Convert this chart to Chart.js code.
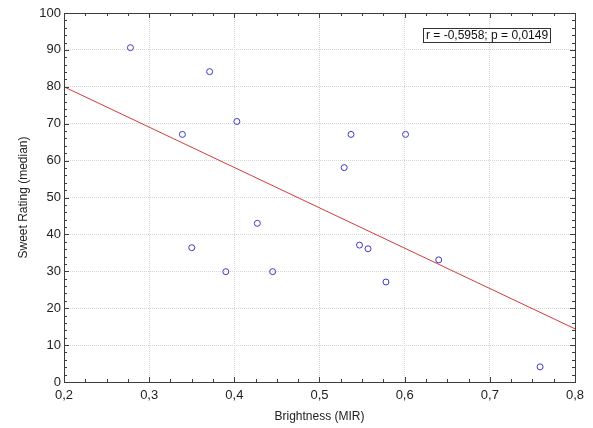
<!DOCTYPE html>
<html>
<head>
<meta charset="utf-8">
<script src="https://cdn.jsdelivr.net/npm/chart.js@4.4.0/dist/chart.umd.min.js"></script>
<style>
    html, body { margin: 0; padding: 0; background: #fff; }
    #wrap { width: 593px; height: 428px; }
</style>
</head>
<body>
<div id="wrap"><canvas id="scatterChart" width="593" height="428"></canvas></div>
<script>
// Brightness (MIR) vs sweet rating (median)
const brightness = [0.278, 0.371, 0.339, 0.403, 0.537, 0.601, 0.529, 0.350,
                    0.390, 0.427, 0.445, 0.547, 0.557, 0.578, 0.640, 0.759];
const sweetRating = [90.6, 84.1, 67.1, 70.6, 67.1, 67.1, 58.1, 36.4,
                     29.9, 43.0, 29.9, 37.1, 36.1, 27.1, 33.1, 4.1];

// regression line end points
const fitX = [0.2, 0.8];
const fitY = [80.0, 14.4];

const corrR = '-0,5958';
const corrP = '0,0149';

const xTitle = 'Brightness (MIR)';
const yTitle = 'Sweet Rating (median)';

const fmtComma = v => Number(v).toFixed(1).replace('.', ',');

// frame, inward ticks and the r/p box
const framePlugin = {
    id: 'frame',
    afterDraw(chart) {
        const { ctx, chartArea: a, scales } = chart;
        const xs = scales.x, ys = scales.y;
        ctx.save();
        ctx.strokeStyle = '#3c3c3c';
        ctx.lineWidth = 1;

        // minor + major ticks on x (top and bottom)
        for (let i = 0; i <= 24; i++) {
            const v = 0.2 + i * 0.025;
            const px = Math.round(xs.getPixelForValue(v)) + 0.5;
            const len = i % 4 === 0 ? 5 : 3;
            ctx.beginPath();
            ctx.moveTo(px, a.bottom); ctx.lineTo(px, a.bottom - len);
            ctx.moveTo(px, a.top); ctx.lineTo(px, a.top + len);
            ctx.stroke();
        }
        // minor + major ticks on y (left and right)
        for (let i = 0; i <= 50; i++) {
            const v = i * 2;
            const py = Math.round(ys.getPixelForValue(v)) + 0.5;
            const len = i % 5 === 0 ? 5 : 3;
            ctx.beginPath();
            ctx.moveTo(a.left, py); ctx.lineTo(a.left + len, py);
            ctx.moveTo(a.right, py); ctx.lineTo(a.right - len, py);
            ctx.stroke();
        }
        ctx.strokeRect(Math.round(a.left) + 0.5, Math.round(a.top) + 0.5,
                       Math.round(a.right - a.left), Math.round(a.bottom - a.top));

        // correlation box
        const label = 'r = ' + corrR + '; p = ' + corrP;
        ctx.font = '12px "Liberation Sans", Arial, sans-serif';
        const tw = ctx.measureText(label).width;
        const bx = Math.round(a.right - 25 - tw - 5) + 0.5;
        const by = Math.round(a.top + 15) + 0.5;
        ctx.fillStyle = '#fff';
        ctx.fillRect(bx, by, tw + 5, 14);
        ctx.strokeStyle = '#333';
        ctx.strokeRect(bx, by, Math.round(tw + 5), 14);
        ctx.fillStyle = '#111';
        ctx.textBaseline = 'middle';
        ctx.fillText(label, bx + 2.5, by + 7.5);
        ctx.restore();
    }
};

const ctx = document.getElementById('scatterChart').getContext('2d');
new Chart(ctx, {
    type: 'scatter',
    data: {
        datasets: [{
            label: 'Sweet rating',
            data: brightness.map((b, i) => ({ x: b, y: sweetRating[i] })),
            pointStyle: 'circle',
            pointRadius: 3,
            borderWidth: 1,
            borderColor: '#3a3ac0',
            backgroundColor: 'rgba(255,255,255,0)',
            order: 1
        }, {
            type: 'line',
            label: 'Fit',
            data: fitX.map((x, i) => ({ x: x, y: fitY[i] })),
            borderColor: '#d43a3a',
            borderWidth: 1,
            pointRadius: 0,
            fill: false,
            order: 2
        }]
    },
    options: {
        responsive: false,
        animation: false,
        layout: { padding: { top: 13, right: 18, left: 0, bottom: 0 } },
        plugins: {
            legend: { display: false },
            tooltip: { enabled: false }
        },
        scales: {
            x: {
                type: 'linear',
                min: 0.2,
                max: 0.8,
                afterFit: s => { s.height = 46; },
                ticks: {
                    stepSize: 0.1,
                    padding: 6,
                    color: '#222',
                    font: { family: '"Liberation Sans", Arial, sans-serif', size: 13 },
                    callback: v => fmtComma(v)
                },
                grid: { color: '#d6d6d6', lineWidth: 1, drawTicks: false },
                border: { display: false, dash: [1, 1] },
                title: {
                    display: true,
                    text: xTitle,
                    color: '#222',
                    padding: { top: 4, bottom: 4 },
                    font: { family: '"Liberation Sans", Arial, sans-serif', size: 12 }
                }
            },
            y: {
                min: 0,
                max: 100,
                afterFit: s => { s.width = 64; },
                ticks: {
                    stepSize: 10,
                    padding: 3,
                    color: '#222',
                    font: { family: '"Liberation Sans", Arial, sans-serif', size: 13 }
                },
                grid: { color: '#d6d6d6', lineWidth: 1, drawTicks: false },
                border: { display: false, dash: [1, 1] },
                title: {
                    display: true,
                    text: yTitle,
                    color: '#222',
                    padding: { top: 16, bottom: 4 },
                    font: { family: '"Liberation Sans", Arial, sans-serif', size: 12 }
                }
            }
        }
    },
    plugins: [framePlugin]
});
</script>
</body>
</html>
